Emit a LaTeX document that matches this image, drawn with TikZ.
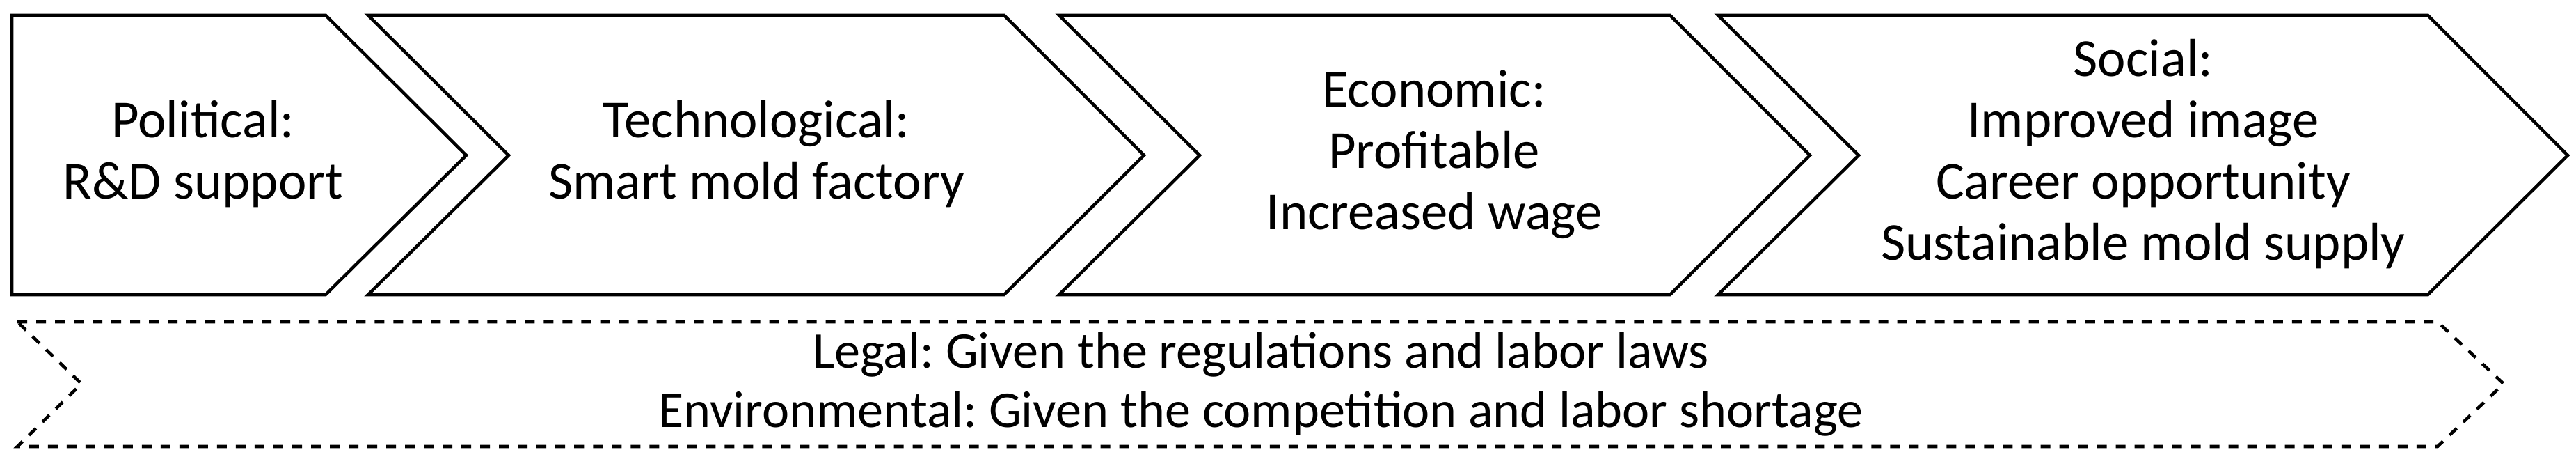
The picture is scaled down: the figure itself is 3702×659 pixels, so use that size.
\documentclass[tikz,border=0pt]{standalone}
\usepackage{fontspec}
\setmainfont{Carlito}
\frenchspacing
\usepackage{tikz}
\tikzset{%
  % Specifications for style of shapes and texts:
          base/.style = {draw=black, line width=1.3pt, line join=miter},
   chevronLine/.style = {base},
   chevronDash/.style = {base, dash pattern=on 0.14cm off 0.13cm},
    factorText/.style = {inner sep=0pt, align=center,
                         font={\fontsize{21.8pt}{25pt}\selectfont},
                         execute at begin node=\strut,
                         execute at end node=\strut},
     frameText/.style = {factorText, font={\fontsize{21.1pt}{24.2pt}\selectfont}},
}

\begin{document}
\begin{tikzpicture}[x=0.01cm, y=-0.01cm]
  \useasboundingbox (0,0) rectangle (3702,659);
  % Specification of the chevrons (top row)
  \draw[chevronLine] (17,22) -- (468,22) -- (670,223) -- (468,423) -- (17,423) -- cycle;
  \foreach \l/\r in {529/1443, 1522/2400, 2469/3489}
    \draw[chevronLine] (\l,22) -- (\r,22) -- ({\r+201},223) -- (\r,423)
      -- (\l,423) -- ({\l+202},223) -- cycle;
  % Dashed frame below
  \draw[chevronDash] (25,462) -- (3503,462) -- (3598,551) -- (3503,641)
    -- (25,641) -- (117,551) -- cycle;
  % Texts (position, etc.)
  \node (onPol)  [factorText] at (292,228)  {Political:\\R\&D support};
  \node (onTech) [factorText] at (1087,228) {Technological:\\Smart mold factory};
  \node (onEco)  [factorText] at (2061,228) {Economic:\\Profitable\\Increased wage};
  \node (onSoc)  [factorText] at (3080,228) {Social:\\Improved image\\Career opportunity\\Sustainable mold supply};
  \node (onLeg)  [frameText]  at (1812,558)
     {Legal: Given the regulations and labor laws\\Environmental: Given the competition and labor shortage};
\end{tikzpicture}
\end{document}
